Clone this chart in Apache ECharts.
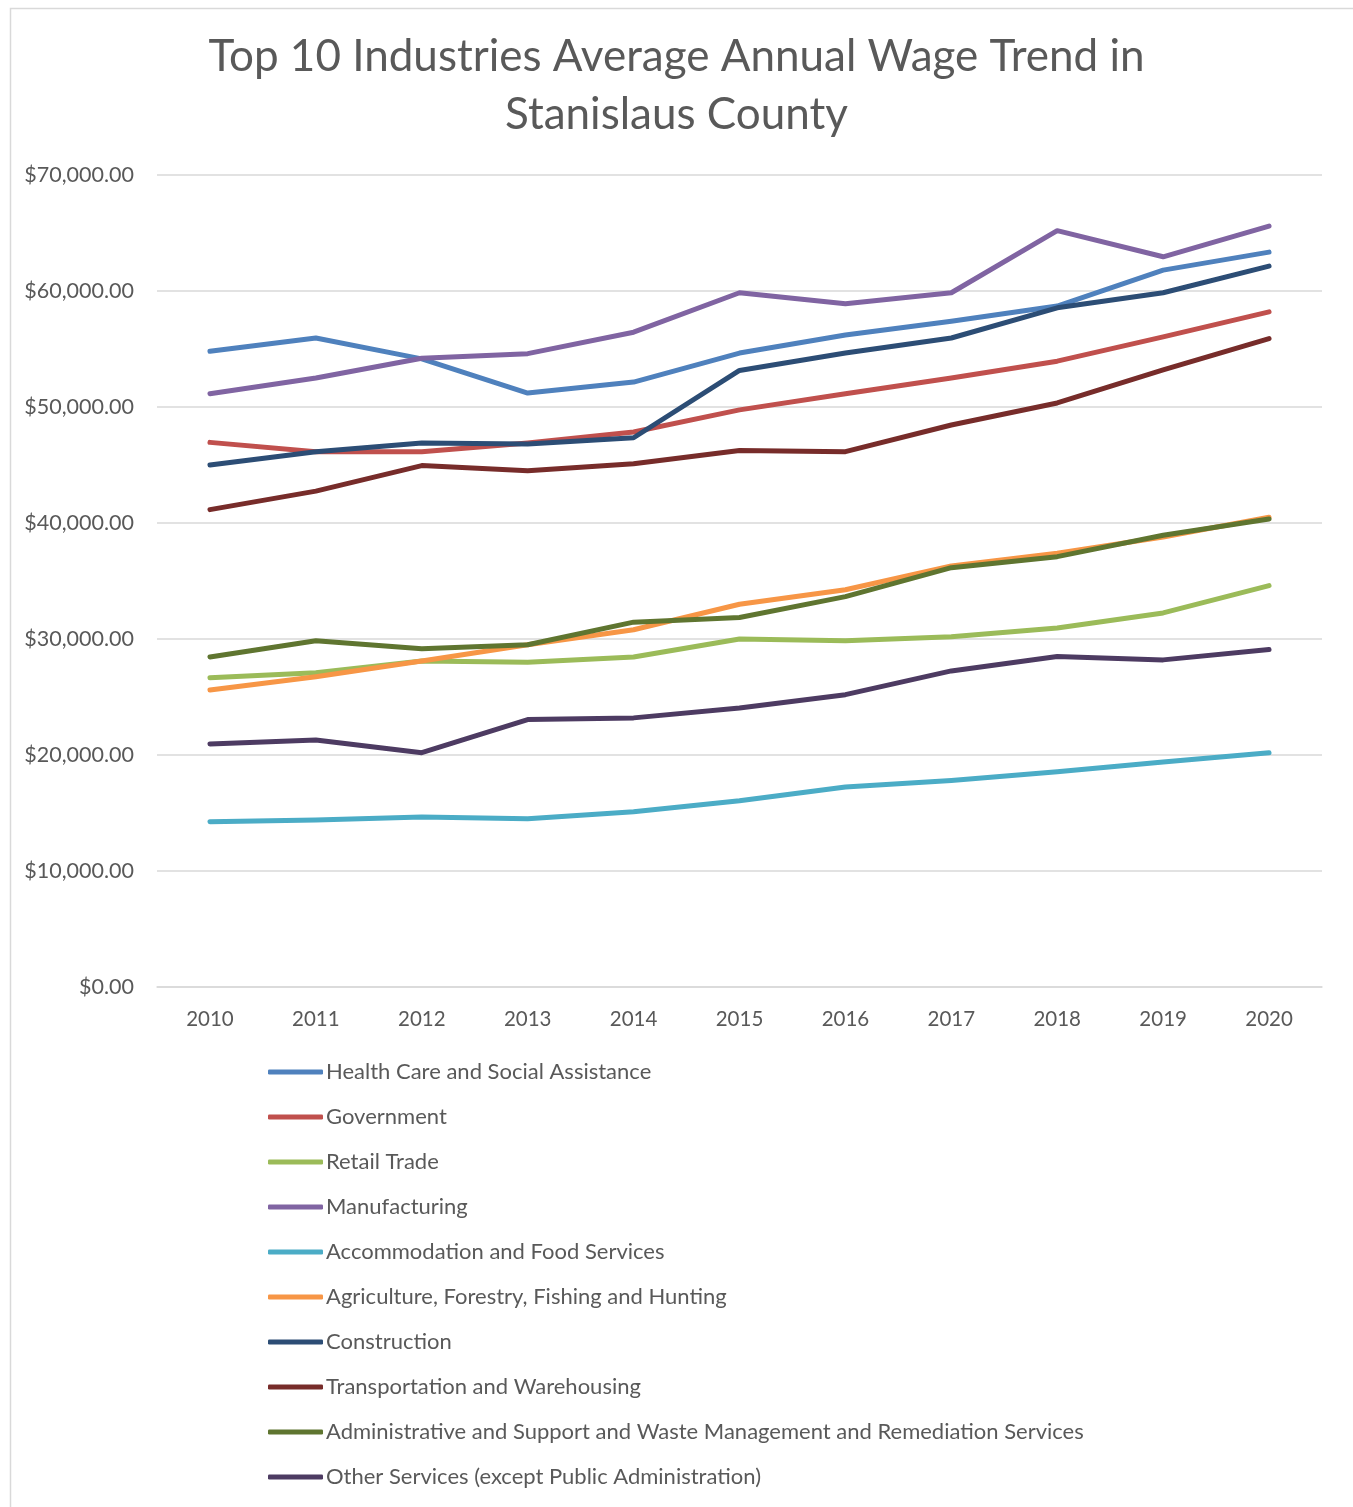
<!DOCTYPE html>
<html>
<head>
<meta charset="utf-8">
<script src="https://cdn.jsdelivr.net/npm/echarts@6/dist/echarts.min.js"></script>
<style>
html,body{margin:0;padding:0;background:#fff;}
#chart{width:1353px;height:1507px;}
</style>
</head>
<body>
<div id="chart"></div>
<script>
var years = ['2010','2011','2012','2013','2014','2015','2016','2017','2018','2019','2020'];
var healthCare = [54800, 55950, 54150, 51200, 52150, 54650, 56200, 57400, 58700, 61800, 63350];
var government = [46950, 46150, 46150, 46900, 47850, 49750, 51150, 52500, 53950, 56050, 58200];
var retailTrade = [26650, 27100, 28100, 28000, 28450, 30000, 29850, 30200, 30950, 32250, 34600];
var manufacturing = [51150, 52500, 54200, 54600, 56450, 59850, 58900, 59850, 65200, 62950, 65600];
var accommodation = [14250, 14400, 14650, 14500, 15100, 16050, 17250, 17800, 18550, 19400, 20200];
var agriculture = [25600, 26750, 28100, 29500, 30800, 33000, 34250, 36300, 37400, 38800, 40500];
var construction = [45000, 46150, 46900, 46800, 47350, 53150, 54650, 55950, 58550, 59850, 62150];
var transportation = [41150, 42750, 44950, 44500, 45100, 46250, 46150, 48450, 50350, 53200, 55900];
var adminSupport = [28450, 29850, 29150, 29500, 31450, 31850, 33650, 36150, 37100, 38950, 40350];
var otherServices = [20950, 21300, 20200, 23050, 23200, 24050, 25200, 27250, 28500, 28200, 29100];

var seriesNames = [
  'Health Care and Social Assistance',
  'Government',
  'Retail Trade',
  'Manufacturing',
  'Accommodation and Food Services',
  'Agriculture, Forestry, Fishing and Hunting',
  'Construction',
  'Transportation and Warehousing',
  'Administrative and Support and Waste Management and Remediation Services',
  'Other Services (except Public Administration)'
];
var seriesData = [healthCare, government, retailTrade, manufacturing, accommodation,
                  agriculture, construction, transportation, adminSupport, otherServices];
var colors = ['#4f81bd','#c0504d','#9bbb59','#8064a2','#4bacc6','#f79646','#2c4d75','#772c2a','#5f7530','#4d3b62'];

var FONT = 'Lato';
var chart = echarts.init(document.getElementById('chart'), null, {renderer:'canvas'});
chart.setOption({
  animation: false,
  backgroundColor: '#ffffff',
  color: colors,
  textStyle: {fontFamily: FONT},
  graphic: [{
    type: 'rect', left: 8, top: 6, silent: true,
    shape: {width: 1344, height: 1510},
    style: {fill: 'none', stroke: '#d9d9d9', lineWidth: 1.5}
  }],
  title: {
    text: 'Top 10 Industries Average Annual Wage Trend in\nStanislaus County',
    left: 'center',
    top: 23,
    textStyle: {fontFamily: FONT, fontSize: 44, fontWeight: 'normal', color: '#595959', lineHeight: 58}
  },
  grid: {left: 157, right: 31, top: 175, bottom: 520, containLabel: false},
  xAxis: {
    type: 'category',
    data: years,
    boundaryGap: true,
    axisLine: {show: true, lineStyle: {color: '#d9d9d9', width: 1.5}},
    axisTick: {show: false},
    axisLabel: {color: '#595959', fontSize: 20.5, fontFamily: FONT, margin: 22}
  },
  yAxis: {
    type: 'value',
    min: 0, max: 70000, interval: 10000,
    axisLine: {show: false},
    axisTick: {show: false},
    splitLine: {lineStyle: {color: '#d9d9d9', width: 1.5}},
    axisLabel: {
      color: '#595959', fontSize: 21.5, fontFamily: FONT, margin: 23,
      formatter: function (v) {
        return '$' + v.toLocaleString('en-US', {minimumFractionDigits: 2, maximumFractionDigits: 2});
      }
    }
  },
  legend: {
    orient: 'vertical',
    left: 263,
    top: 1056,
    itemWidth: 55,
    itemHeight: 5,
    itemGap: 23,
    icon: 'roundRect',
    data: seriesNames,
    textStyle: {color: '#595959', fontSize: 22, fontFamily: FONT, lineHeight: 22, padding: [0,0,0,-2]}
  },
  series: seriesNames.map(function (name, i) {
    return {
      name: name,
      type: 'line',
      data: seriesData[i],
      showSymbol: false,
      symbol: 'none',
      lineStyle: {width: 5, color: colors[i], cap: 'round', join: 'round'},
      itemStyle: {color: colors[i]}
    };
  })
});
</script>
</body>
</html>
